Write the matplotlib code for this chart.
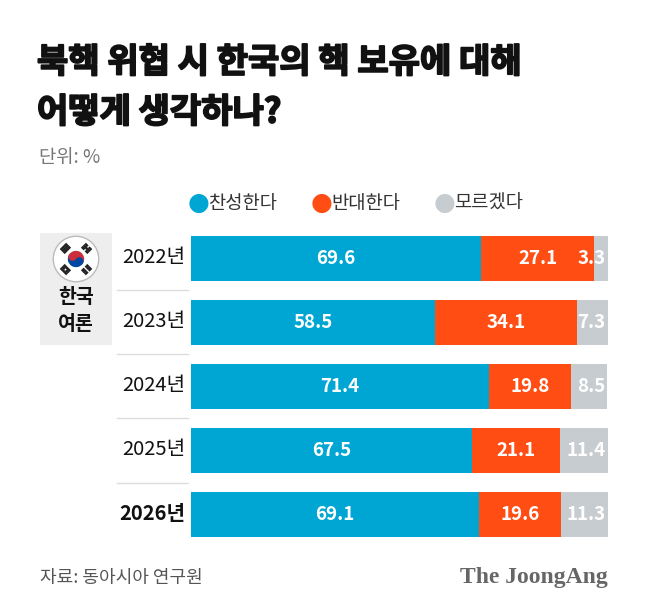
import numpy as np
import matplotlib.pyplot as plt
import matplotlib.patheffects as pe
from matplotlib.patches import Circle, Wedge, Rectangle
from matplotlib.lines import Line2D

plt.rcParams['font.family'] = ['Noto Sans CJK KR', 'DejaVu Sans']

years = ['2022년', '2023년', '2024년', '2025년', '2026년']
agree = [69.6, 58.5, 71.4, 67.5, 69.1]
disagree = [27.1, 34.1, 19.8, 21.1, 19.6]
unsure = [3.3, 7.3, 8.5, 11.4, 11.3]
series_names = ['찬성한다', '반대한다', '모르겠다']

BLUE = '#00A6D3'
ORANGE = '#FF4D14'
GRAY = '#C7CCD0'

W, H = 650, 616
fig = plt.figure(figsize=(6.5, 6.16), dpi=100)
fig.patch.set_facecolor('white')


def fx(px):
    return px / W


def fy(py):
    return 1 - py / H


def ftext(px, py, s, **kw):
    fig.text(fx(px), fy(py), s, **kw)


# title (stroke makes it closer to the heavy original face)
heavy = [pe.withStroke(linewidth=1.3, foreground='#111111')]
ftext(37, 62, '북핵 위협 시 한국의 핵 보유에 대해', fontsize=24.5, fontweight='bold',
      color='#111111', va='center', path_effects=heavy)
ftext(37, 112, '어떻게 생각하나?', fontsize=24.5, fontweight='bold',
      color='#111111', va='center', path_effects=heavy)
ftext(39, 157, '단위: %', fontsize=13.5, color='#777777', va='center')

# legend
for cx, name, col in zip([199, 322, 445], series_names, [BLUE, ORANGE, GRAY]):
    ftext(cx, 203, '●', fontsize=18, color=col, ha='center', va='center',
          family=['DejaVu Sans'])
    ftext(cx + 9, 203, name, fontsize=13.5, color='#333333', va='center')

# bars
top, bottom = 226, 547
ax = fig.add_axes([fx(191), fy(bottom), fx(608) - fx(191), (bottom - top) / H])
ypos = np.arange(len(years))
h = 0.70
ax.barh(ypos, agree, height=h, color=BLUE)
ax.barh(ypos, disagree, left=agree, height=h, color=ORANGE)
left3 = np.array(agree) + np.array(disagree)
ax.barh(ypos, unsure, left=left3, height=h, color=GRAY)
ax.set_xlim(0, 100)
ax.set_ylim(len(years) - 0.5, -0.5)
ax.axis('off')

for i in range(len(years)):
    ax.text(agree[i] / 2, i, f'{agree[i]:.1f}', color='white', fontsize=13.5,
            fontweight='bold', ha='center', va='center')
    ax.text(agree[i] + disagree[i] / 2, i, f'{disagree[i]:.1f}', color='white',
            fontsize=13.5, fontweight='bold', ha='center', va='center')
    ax.text(99.4, i, f'{unsure[i]:.1f}', color='white', fontsize=13.5,
            fontweight='bold', ha='right', va='center')

# year labels and separators
row_c = [258, 322, 386, 450, 514]
for i, (yc, yr) in enumerate(zip(row_c, years)):
    ftext(185, yc, yr, fontsize=14.5, color='#111111', ha='right', va='center',
          fontweight='bold' if i == len(years) - 1 else 'normal')
for sy in [290, 354, 418, 483]:
    fig.add_artist(Line2D([fx(117), fx(188)], [fy(sy), fy(sy)],
                          color='#DDDDDD', lw=1))

# gray box with flag
fig.add_artist(Rectangle((fx(40), fy(345)), fx(112) - fx(40), (345 - 233) / H,
                         color='#EEEEEE', lw=0, zorder=0))
ftext(76, 297, '한국', fontsize=14, color='#111111', ha='center', va='center',
      fontweight='bold')
ftext(76, 325, '여론', fontsize=14, color='#111111', ha='center', va='center',
      fontweight='bold')

fax = fig.add_axes([fx(51), fy(284), 50 / W, 50 / H])
fax.set_xlim(-1.1, 1.1)
fax.set_ylim(-1.1, 1.1)
fax.set_aspect('equal')
fax.axis('off')
fax.add_patch(Circle((0, 0), 1.0, facecolor='white', edgecolor='#BBBBBB', lw=1))
r = 0.36
ang = -33.7
fax.add_patch(Wedge((0, 0), r, ang, ang + 180, color='#CD2E3A', lw=0))
fax.add_patch(Wedge((0, 0), r, ang + 180, ang + 360, color='#0047A0', lw=0))
t = np.deg2rad(ang)
fax.add_patch(Circle((-r / 2 * np.cos(t), -r / 2 * np.sin(t)), r / 2,
                     color='#CD2E3A', lw=0))
fax.add_patch(Circle((r / 2 * np.cos(t), r / 2 * np.sin(t)), r / 2,
                     color='#0047A0', lw=0))

# trigrams: 1 = solid, 0 = broken, from inner to outer
trigrams = {135: [1, 1, 1], 45: [0, 1, 0], 225: [1, 0, 1], 315: [0, 0, 0]}
for a, bars in trigrams.items():
    ar = np.deg2rad(a)
    ux, uy = np.cos(ar), np.sin(ar)
    px_, py_ = -uy, ux
    for k, solid in enumerate(bars):
        d = 0.56 + k * 0.1
        cx, cy = d * ux, d * uy
        segs = [(-0.2, 0.2)] if solid else [(-0.2, -0.03), (0.03, 0.2)]
        for s0, s1 in segs:
            fax.plot([cx + s0 * px_, cx + s1 * px_], [cy + s0 * py_, cy + s1 * py_],
                     color='#222222', lw=1.8, solid_capstyle='butt')

# footer
ftext(40, 578, '자료: 동아시아 연구원', fontsize=13, color='#555555', va='center')
ftext(608, 578, 'The JoongAng', fontsize=17, color='#666666', ha='right',
      va='center', family=['Liberation Serif'], fontweight='bold')

fig.savefig('out.png', dpi=100, facecolor='white')
